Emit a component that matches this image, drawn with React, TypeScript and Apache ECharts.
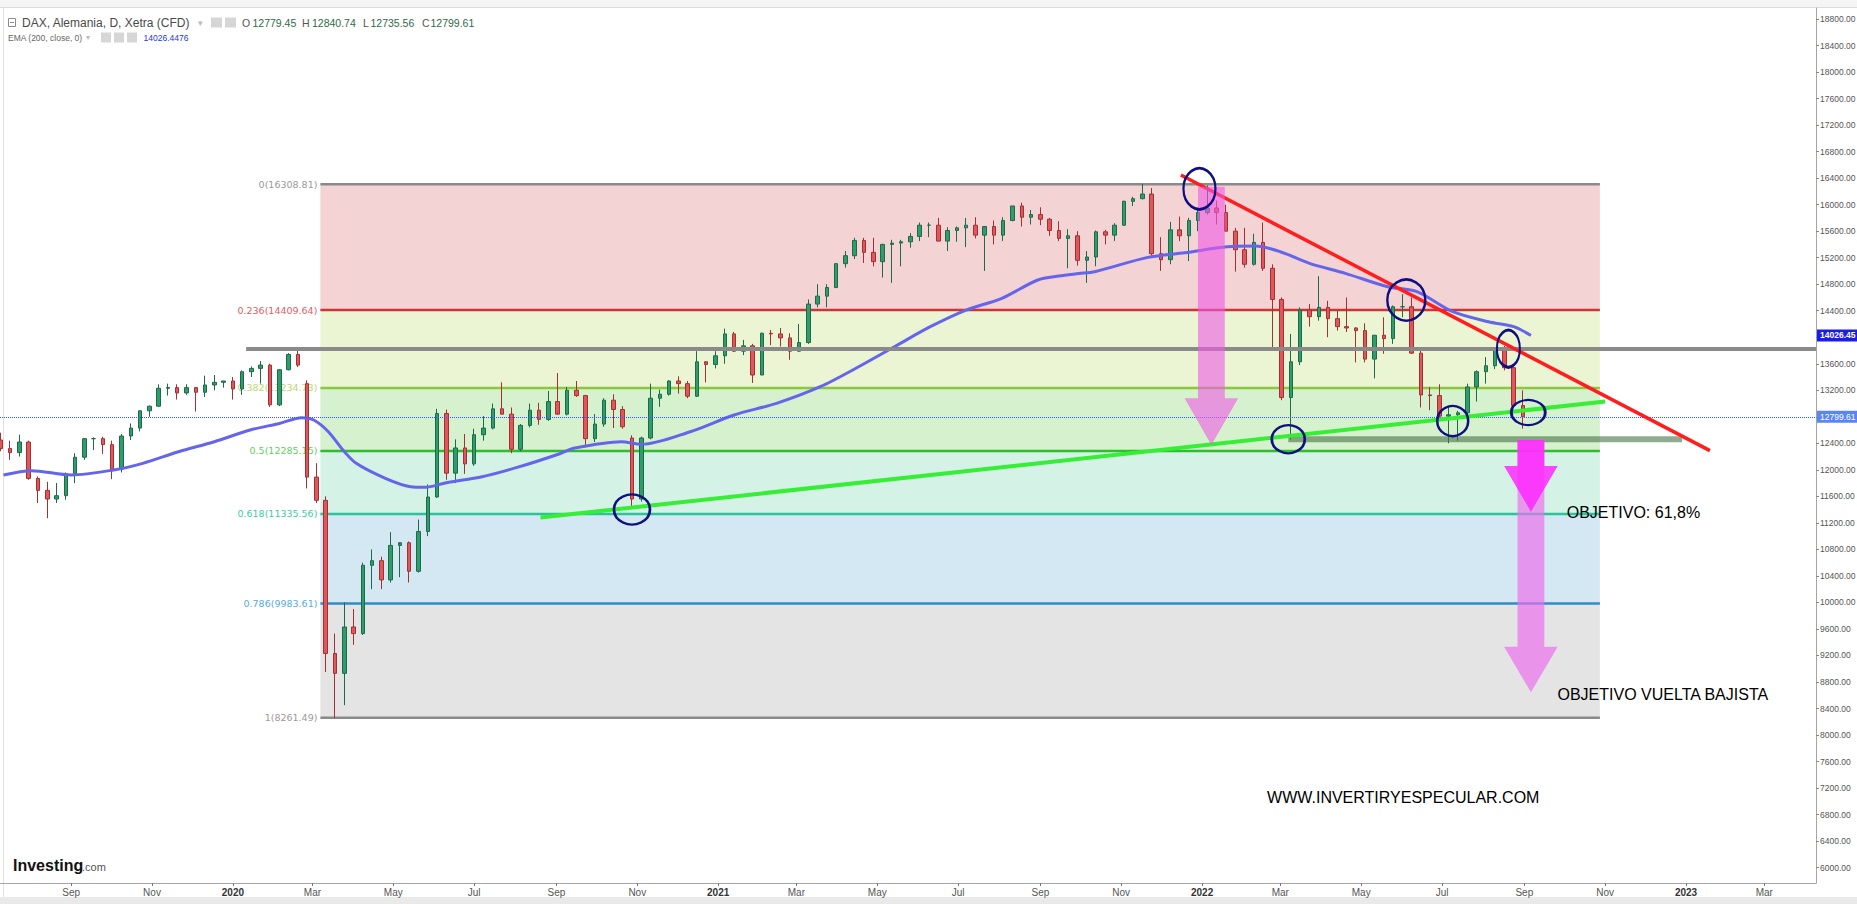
import React, { useEffect, useRef } from "react";
import * as echarts from "echarts";

type Candle = [string, number, number, number, number]; // date, open, high, low, close

const CANDLES_2019: Candle[] = [
  ["2019-07-10", 12450, 12560, 12280, 12320],
  ["2019-07-17", 12320, 12440, 12150, 12260],
  ["2019-07-24", 12260, 12530, 12200, 12420],
  ["2019-07-31", 12420, 12440, 11850, 11870],
  ["2019-08-07", 11870, 11900, 11500, 11690],
  ["2019-08-14", 11690, 11820, 11270, 11560],
  ["2019-08-21", 11560, 11800, 11500, 11610],
  ["2019-08-28", 11610, 11960, 11550, 11940],
  ["2019-09-04", 11940, 12250, 11800, 12190],
  ["2019-09-11", 12190, 12480, 12150, 12470],
  ["2019-09-18", 12470, 12490, 12300, 12470],
  ["2019-09-25", 12470, 12500, 12240, 12380],
  ["2019-10-02", 12380, 12440, 11860, 12010],
  ["2019-10-09", 12010, 12540, 11960, 12510],
  ["2019-10-16", 12510, 12700, 12450, 12630],
  ["2019-10-23", 12630, 12900, 12580, 12890],
  ["2019-10-30", 12890, 12970, 12800, 12960],
  ["2019-11-06", 12960, 13290, 12950, 13230],
  ["2019-11-13", 13230, 13300, 13120, 13240],
  ["2019-11-20", 13240, 13290, 13060, 13160],
  ["2019-11-27", 13160, 13290, 13130, 13240],
  ["2019-12-04", 13240, 13250, 12880, 13170],
  ["2019-12-11", 13170, 13420, 13100, 13280],
  ["2019-12-18", 13280, 13430, 13200, 13320],
  ["2019-12-25", 13320, 13340, 13240, 13340],
];

const CANDLES_2020: Candle[] = [
  ["2020-01-01", 13340, 13400, 13060, 13220],
  ["2020-01-08", 13220, 13500, 13130, 13480],
  ["2020-01-15", 13480, 13560, 13400, 13530],
  ["2020-01-22", 13530, 13640, 13300, 13580],
  ["2020-01-29", 13580, 13600, 12950, 12980],
  ["2020-02-05", 12980, 13500, 12960, 13510],
  ["2020-02-12", 13510, 13760, 13500, 13740],
  ["2020-02-19", 13740, 13800, 13550, 13580],
  ["2020-02-26", 13300, 13350, 11720, 11890],
  ["2020-03-04", 11890, 12100, 11500, 11540],
  ["2020-03-11", 11540, 11600, 8950, 9230],
  ["2020-03-18", 9230, 9530, 8260, 8930],
  ["2020-03-25", 8930, 10000, 8450, 9630],
  ["2020-04-01", 9630, 9900, 9360, 9530],
  ["2020-04-08", 9530, 10600, 9510, 10560],
  ["2020-04-15", 10560, 10800, 10200, 10630],
  ["2020-04-22", 10630, 10690, 10200, 10340],
  ["2020-04-29", 10340, 11060, 10300, 10860],
  ["2020-05-06", 10860, 10880, 10380, 10900],
  ["2020-05-13", 10900, 10920, 10300, 10470],
  ["2020-05-20", 10470, 11250, 10450, 11070],
  ["2020-05-27", 11070, 11780, 11000, 11590],
  ["2020-06-03", 11590, 12920, 11580, 12850],
  ["2020-06-10", 12850, 12910, 11850, 11950],
  ["2020-06-17", 11950, 12460, 11800, 12330],
  ["2020-06-24", 12330, 12540, 11940, 12090],
  ["2020-07-01", 12090, 12620, 12060, 12530],
  ["2020-07-08", 12530, 12810, 12440, 12630],
  ["2020-07-15", 12630, 13000, 12610, 12920],
  ["2020-07-22", 12920, 13320, 12840, 12840],
  ["2020-07-29", 12840, 12940, 12250, 12310],
  ["2020-08-05", 12310, 12690, 12280, 12670],
  ["2020-08-12", 12670, 13000, 12640, 12900],
  ["2020-08-19", 12900, 13010, 12680, 12760],
  ["2020-08-26", 12760, 13190, 12740, 13030],
  ["2020-09-02", 13030, 13460, 12860, 12840],
  ["2020-09-09", 12840, 13250, 12820, 13200],
  ["2020-09-16", 13200, 13340, 13100, 13120],
  ["2020-09-23", 13120, 13130, 12340, 12470],
  ["2020-09-30", 12470, 12840, 12420, 12690],
  ["2020-10-07", 12690, 13080, 12650, 13050],
  ["2020-10-14", 13050, 13140, 12630, 12910],
  ["2020-10-21", 12910, 12960, 12620, 12650],
  ["2020-10-28", 12480, 12520, 11450, 11560],
  ["2020-11-04", 11560, 12500, 11520, 12480],
  ["2020-11-11", 12480, 13300, 12460, 13080],
  ["2020-11-18", 13080, 13210, 12950, 13140],
  ["2020-11-25", 13140, 13350, 13120, 13340],
  ["2020-12-02", 13340, 13410, 13150, 13300],
  ["2020-12-09", 13300, 13340, 13080, 13110],
  ["2020-12-16", 13110, 13790, 13100, 13630],
  ["2020-12-23", 13630, 13640, 13320, 13590],
  ["2020-12-30", 13590, 13790, 13530, 13720],
];

const CANDLES_2021: Candle[] = [
  ["2021-01-06", 13720, 14130, 13600, 14050],
  ["2021-01-13", 14050, 14080, 13780, 13790],
  ["2021-01-20", 13790, 13960, 13730, 13870],
  ["2021-01-27", 13870, 13900, 13310, 13430],
  ["2021-02-03", 13430, 14070, 13430, 14060],
  ["2021-02-10", 14060, 14110, 13880, 14050],
  ["2021-02-17", 14050, 14140, 13860, 13990],
  ["2021-02-24", 13990, 14060, 13660, 13790],
  ["2021-03-03", 13790, 14200, 13780, 13920],
  ["2021-03-10", 13920, 14570, 13900, 14500],
  ["2021-03-17", 14500, 14800, 14450, 14620],
  ["2021-03-24", 14620, 14800, 14450, 14750],
  ["2021-03-31", 14750, 15120, 14740, 15110],
  ["2021-04-07", 15110, 15300, 15050, 15230],
  ["2021-04-14", 15230, 15500, 15180, 15460],
  ["2021-04-21", 15460, 15500, 15120, 15280],
  ["2021-04-28", 15280, 15500, 15070, 15140],
  ["2021-05-05", 15140, 15410, 14900, 15400],
  ["2021-05-12", 15400, 15470, 14820, 15420],
  ["2021-05-19", 15420, 15470, 15070, 15440],
  ["2021-05-26", 15440, 15570, 15350, 15520],
  ["2021-06-02", 15520, 15730, 15450, 15690],
  ["2021-06-09", 15690, 15730, 15510, 15690],
  ["2021-06-16", 15690, 15800, 15450, 15450],
  ["2021-06-23", 15450, 15660, 15300, 15610],
  ["2021-06-30", 15610, 15670, 15440, 15650],
  ["2021-07-07", 15650, 15800, 15360, 15690],
  ["2021-07-14", 15690, 15810, 15490, 15540],
  ["2021-07-21", 15540, 15660, 15000, 15670],
  ["2021-07-28", 15670, 15760, 15400, 15540],
  ["2021-08-04", 15540, 15810, 15450, 15760],
  ["2021-08-11", 15760, 15980, 15750, 15980],
  ["2021-08-18", 15980, 16030, 15670, 15810],
  ["2021-08-25", 15810, 15920, 15700, 15850],
  ["2021-09-01", 15850, 15960, 15690, 15780],
  ["2021-09-08", 15780, 15800, 15530, 15610],
  ["2021-09-15", 15610, 15750, 15450, 15490],
  ["2021-09-22", 15490, 15630, 15040, 15530],
  ["2021-09-29", 15530, 15600, 15080, 15160],
  ["2021-10-06", 15160, 15300, 14820, 15210],
  ["2021-10-13", 15210, 15610, 15070, 15590],
  ["2021-10-20", 15590, 15620, 15400, 15540],
  ["2021-10-27", 15540, 15720, 15450, 15690],
  ["2021-11-03", 15690, 16060, 15680, 16050],
  ["2021-11-10", 16050, 16120, 15980, 16090],
  ["2021-11-17", 16090, 16310, 16080, 16160],
  ["2021-11-24", 16160, 16250, 15230, 15260],
  ["2021-12-01", 15260, 15510, 15000, 15170],
  ["2021-12-08", 15170, 15740, 15100, 15620],
  ["2021-12-15", 15620, 15820, 15450, 15530],
  ["2021-12-22", 15530, 15800, 15150, 15760],
  ["2021-12-29", 15760, 15950, 15600, 15880],
];

const CANDLES_2022: Candle[] = [
  ["2022-01-05", 15880, 16290, 15850, 15950],
  ["2022-01-12", 15950, 16060, 15700, 15880],
  ["2022-01-19", 15880, 16000, 15600, 15600],
  ["2022-01-26", 15600, 15650, 14990, 15320],
  ["2022-02-02", 15320, 15650, 15050, 15100],
  ["2022-02-09", 15100, 15560, 15080, 15430],
  ["2022-02-16", 15430, 15730, 15000, 15040],
  ["2022-02-23", 15040, 15100, 13800, 14570],
  ["2022-03-02", 14570, 14600, 13050, 13090],
  ["2022-03-09", 13090, 14050, 12460, 13630],
  ["2022-03-16", 13630, 14450, 13580, 14410],
  ["2022-03-23", 14410, 14500, 14160, 14310],
  ["2022-03-30", 14310, 14920, 14250, 14450],
  ["2022-04-06", 14450, 14550, 14000, 14280],
  ["2022-04-13", 14280, 14400, 14100, 14160],
  ["2022-04-20", 14160, 14600, 14080, 14140],
  ["2022-04-27", 14140, 14150, 13620, 14100],
  ["2022-05-04", 14100, 14210, 13620, 13670],
  ["2022-05-11", 13670, 14030, 13380, 14030],
  ["2022-05-18", 14030, 14300, 13750, 13980],
  ["2022-05-25", 13980, 14480, 13900, 14460],
  ["2022-06-01", 14460, 14650, 14300, 14460],
  ["2022-06-08", 14460, 14600, 13750, 13760],
  ["2022-06-15", 13760, 13800, 12940, 13130],
  ["2022-06-22", 13130, 13250, 12900, 13120],
  ["2022-06-29", 13120, 13290, 12750, 12810],
  ["2022-07-06", 12810, 12960, 12400, 12830],
  ["2022-07-13", 12830, 12890, 12440, 12860],
  ["2022-07-20", 12860, 13300, 12840, 13250],
  ["2022-07-27", 13250, 13500, 13030, 13480],
  ["2022-08-03", 13480, 13700, 13300, 13570],
  ["2022-08-10", 13570, 13800, 13520, 13800],
  ["2022-08-17", 13800, 13870, 13500, 13540],
  ["2022-08-24", 13540, 13560, 12950, 12970],
  ["2022-08-31", 12970, 13200, 12620, 12800],
];

const EMA_200: [string, number][] = [
  ["2019-07-12", 11922], ["2019-08-02", 11987], ["2019-09-01", 11922], ["2019-10-03", 11997],
  ["2019-10-25", 12098], ["2019-11-21", 12273], ["2019-12-18", 12424], ["2020-01-14", 12600],
  ["2020-02-05", 12700], ["2020-02-22", 12786], ["2020-03-02", 12751], ["2020-03-13", 12575],
  ["2020-03-24", 12299], ["2020-04-03", 12098], ["2020-04-25", 11872], ["2020-05-14", 11745],
  ["2020-05-25", 11736], ["2020-06-10", 11806], ["2020-07-07", 11896], ["2020-08-03", 12040],
  ["2020-09-03", 12239], ["2020-09-14", 12325], ["2020-10-20", 12424], ["2020-11-04", 12385],
  ["2020-12-11", 12575], ["2021-01-13", 12827], ["2021-02-14", 13003], ["2021-03-19", 13254],
  ["2021-04-17", 13555], ["2021-05-14", 13857], ["2021-06-10", 14159], ["2021-07-07", 14410],
  ["2021-08-03", 14587], ["2021-08-30", 14863], ["2021-09-15", 14923], ["2021-09-30", 14960],
  ["2021-10-12", 14988], ["2021-11-21", 15205], ["2021-12-19", 15275], ["2022-01-20", 15365],
  ["2022-02-10", 15376], ["2022-03-01", 15290], ["2022-03-23", 15115], ["2022-04-19", 14964],
  ["2022-05-21", 14762], ["2022-06-12", 14687], ["2022-07-09", 14385], ["2022-08-05", 14234],
  ["2022-08-24", 14159], ["2022-09-06", 14026],
];

const EMA_LAST = 14026.45;
const EMA_LAST_FULL = "14026.4476";
const LAST_PRICE = 12799.61;
const HEADER_OHLC: [string, string][] = [["O", "12779.45"], ["H", "12840.74"], ["L", "12735.56"], ["C", "12799.61"]];
const TITLE = "DAX, Alemania, D, Xetra (CFD)";
const EMA_TITLE = "EMA (200, close, 0)";

const FIB_RATIOS = ["0", "0.236", "0.382", "0.5", "0.618", "0.786", "1"];
const FIB_VALUES = [16308.81, 14409.64, 13234.73, 12285.15, 11335.56, 9983.61, 8261.49];
const FIB_SPAN = ["2020-03-07", "2022-10-28"];

const RESISTANCE: [string, number][] = [["2020-01-11", 13822], ["2023-04-09", 13822]];
const SUPPORT_BAND: [string, number][] = [["2022-03-07", 12460], ["2022-12-29", 12460]];
const GREEN_TREND: [string, number][] = [["2020-08-20", 11281], ["2022-11-01", 13030]];
const RED_TREND: [string, number][] = [["2021-12-16", 16447], ["2023-01-19", 12290]];

const CIRCLES: [string, number][] = [
  ["2020-10-28", 11402], ["2021-12-30", 16239], ["2022-03-07", 12462], ["2022-06-04", 14561],
  ["2022-07-09", 12736], ["2022-08-20", 13827], ["2022-09-04", 12865],
];

// date, shaft top, head start, tip
const ARROWS: [string, number, number, number][] = [
  ["2022-01-08", 16270, 13079, 12375],
  ["2022-09-06", 12450, 9332, 8644],
  ["2022-09-06", 12450, 12058, 11369],
];

const NOTES: [string, number, string][] = [
  ["2022-10-03", 11349, "OBJETIVO: 61,8%"],
  ["2022-09-26", 8604, "OBJETIVO VUELTA BAJISTA"],
  ["2022-02-19", 7065, "WWW.INVERTIRYESPECULAR.COM"],
];

const X_TICKS = [
  "2019-09-01", "2019-11-01", "2020-01-01", "2020-03-01", "2020-05-01", "2020-07-01", "2020-09-01",
  "2020-11-01", "2021-01-01", "2021-03-01", "2021-05-01", "2021-07-01", "2021-09-01", "2021-11-01",
  "2022-01-01", "2022-03-01", "2022-05-01", "2022-07-01", "2022-09-01", "2022-11-01", "2023-01-01",
  "2023-03-01",
];
const MONTHS = ["Jan", "Feb", "Mar", "Apr", "May", "Jun", "Jul", "Aug", "Sep", "Oct", "Nov", "Dec"];
const Y_TICKS = [
  6000, 6400, 6800, 7200, 7600, 8000, 8400, 8800, 9200, 9600, 10000, 10400, 10800, 11200, 11600,
  12000, 12400, 12800, 13200, 13600, 14000, 14400, 14800, 15200, 15600, 16000, 16400, 16800, 17200,
  17600, 18000, 18400, 18800,
];
const X_RANGE = ["2019-07-09T08:40:00Z", "2023-04-09"];
const Y_RANGE = [5768, 18966];

// styles
const FIB_LINE_COLORS = ["#8a8a8a", "#cf3434", "#8cc83c", "#2dbd2d", "#2cc39a", "#2e8cc8", "#8a8a8a"];
const FIB_LABEL_COLORS = ["#9a9a9a", "#e0605f", "#b8d870", "#5fcf5f", "#3dcda0", "#55abe0", "#9a9a9a"];
const FIB_ZONE_COLORS = ["#f4d3d4", "#ebf5d3", "#d6f1cd", "#d4f3e6", "#d4e8f3", "#e4e4e4"];
const CIRCLE_SIZES: [number, number][] = [[36, 30], [32, 41], [33, 28], [38, 41], [31, 30], [23, 37], [34, 25]];
const ARROW_COLORS = ["rgba(238,90,230,0.6)", "rgba(236,110,238,0.68)", "rgba(255,40,255,0.85)"];

const FONT = '"Liberation Sans", Arial, sans-serif';
const ts = (d: string) => Date.parse(d.length === 10 ? d + "T00:00:00Z" : d);

function buildOption(): any {
  const candles = [...CANDLES_2019, ...CANDLES_2020, ...CANDLES_2021, ...CANDLES_2022];
  const line = (data: [string, number][], color: string, width: number, z: number) => ({
    type: "line",
    z,
    silent: true,
    symbol: "none",
    data: data.map(([d, v]) => [ts(d), v]),
    lineStyle: { color, width, cap: "butt" },
  });
  const priceTag = (value: number, bg: string, bold: boolean) => ({
    show: true,
    position: "end",
    distance: 1,
    formatter: () => value.toFixed(2),
    backgroundColor: bg,
    color: "#ffffff",
    fontWeight: bold ? "bold" : "normal",
    fontSize: 8.5,
    fontFamily: FONT,
    padding: [2, 3, 1, 3],
  });

  const headerGraphics: any[] = [
    { type: "rect", silent: true, shape: { x: 0, y: 0, width: 1857, height: 7 }, style: { fill: "#f5f5f5" } },
    { type: "line", silent: true, shape: { x1: 0, y1: 7.5, x2: 1857, y2: 7.5 }, style: { stroke: "#dcdcdc", lineWidth: 1 } },
    { type: "line", silent: true, shape: { x1: 3.5, y1: 8, x2: 3.5, y2: 897 }, style: { stroke: "#e2e2e2", lineWidth: 1 } },
    { type: "rect", silent: true, shape: { x: 0, y: 897, width: 1857, height: 7 }, style: { fill: "#e9e9e9" } },
    { type: "rect", silent: true, shape: { x: 8.5, y: 18.5, width: 7, height: 8 }, style: { fill: "none", stroke: "#8a8a8a", lineWidth: 1 } },
    { type: "line", silent: true, shape: { x1: 10, y1: 22.5, x2: 14, y2: 22.5 }, style: { stroke: "#8a8a8a", lineWidth: 1 } },
    { type: "text", silent: true, x: 22, y: 23, style: { text: TITLE, fill: "#4a4a4a", fontSize: 12, fontFamily: FONT, verticalAlign: "middle" } },
    { type: "text", silent: true, x: 198, y: 23, style: { text: "▾", fill: "#bbbbbb", fontSize: 9, fontFamily: "DejaVu Sans", verticalAlign: "middle" } },
    { type: "rect", silent: true, shape: { x: 211, y: 17.5, width: 11, height: 10 }, style: { fill: "#d6d6d6" } },
    { type: "rect", silent: true, shape: { x: 225, y: 17.5, width: 11, height: 10 }, style: { fill: "#d6d6d6" } },
    { type: "text", silent: true, x: 8, y: 37.5, style: { text: EMA_TITLE, fill: "#666666", fontSize: 8.5, fontFamily: FONT, verticalAlign: "middle" } },
    { type: "text", silent: true, x: 86, y: 37.5, style: { text: "▾", fill: "#bbbbbb", fontSize: 8, fontFamily: "DejaVu Sans", verticalAlign: "middle" } },
    { type: "rect", silent: true, shape: { x: 101, y: 32.5, width: 10, height: 10 }, style: { fill: "#d6d6d6" } },
    { type: "rect", silent: true, shape: { x: 114, y: 32.5, width: 10, height: 10 }, style: { fill: "#d6d6d6" } },
    { type: "rect", silent: true, shape: { x: 127, y: 32.5, width: 10, height: 10 }, style: { fill: "#d6d6d6" } },
    { type: "text", silent: true, x: 143.5, y: 37.5, style: { text: EMA_LAST_FULL, fill: "#2236ff", fontSize: 8.5, fontFamily: FONT, verticalAlign: "middle" } },
    { type: "text", silent: true, x: 13, y: 865, style: { text: "Investing", fill: "#111111", fontSize: 16, fontWeight: "bold", fontFamily: FONT, verticalAlign: "middle" } },
    { type: "text", silent: true, x: 82, y: 867, style: { text: ".com", fill: "#555555", fontSize: 11, fontFamily: FONT, verticalAlign: "middle" } },
  ];
  const ohlcX = [[242, 252.5], [302, 312], [363, 370.5], [422, 430.5]];
  HEADER_OHLC.forEach(([k, v], i) => {
    headerGraphics.push({ type: "text", silent: true, x: ohlcX[i][0], y: 23, style: { text: k, fill: "#555555", fontSize: 10.5, fontFamily: FONT, verticalAlign: "middle" } });
    headerGraphics.push({ type: "text", silent: true, x: ohlcX[i][1], y: 23, style: { text: v, fill: "#2e6b48", fontSize: 10.5, fontFamily: FONT, verticalAlign: "middle" } });
  });

  return {
    animation: false,
    backgroundColor: "#ffffff",
    textStyle: { fontFamily: FONT },
    grid: { left: 0, right: 41, top: 8, bottom: 21, containLabel: false, outerBoundsMode: "none" },
    xAxis: {
      type: "value",
      min: ts(X_RANGE[0]),
      max: ts(X_RANGE[1]),
      axisLine: { show: true, lineStyle: { color: "#a5a5a5", width: 1 } },
      axisTick: { show: true, customValues: X_TICKS.map(ts), length: 3, lineStyle: { color: "#777777" } },
      axisLabel: {
        customValues: X_TICKS.map(ts),
        margin: 4,
        fontSize: 10,
        color: "#555555",
        fontFamily: FONT,
        formatter: (v: number) => {
          const d = new Date(v);
          const m = d.getUTCMonth();
          return m === 0 ? `{y|${d.getUTCFullYear()}}` : MONTHS[m];
        },
        rich: { y: { fontWeight: "bold", color: "#333333", fontSize: 10, fontFamily: FONT } },
      },
      splitLine: { show: false },
    },
    yAxis: {
      type: "value",
      position: "right",
      min: Y_RANGE[0],
      max: Y_RANGE[1],
      axisLine: { show: true, lineStyle: { color: "#a5a5a5", width: 1 } },
      axisTick: { show: true, customValues: Y_TICKS, length: 3, lineStyle: { color: "#888888" } },
      axisLabel: {
        customValues: Y_TICKS,
        margin: 4,
        fontSize: 8.5,
        color: "#555555",
        fontFamily: FONT,
        formatter: (v: number) => v.toFixed(2),
      },
      splitLine: { show: false },
    },
    graphic: headerGraphics,
    series: [
      {
        type: "custom",
        name: "fib",
        z: 1,
        silent: true,
        clip: false,
        encode: { x: [0, 2], y: [1, 3] },
        data: FIB_VALUES.map((v, i) => [ts(FIB_SPAN[0]), v, ts(FIB_SPAN[1]), i < FIB_VALUES.length - 1 ? FIB_VALUES[i + 1] : v]),
        renderItem: (params: any, api: any) => {
          const i = params.dataIndex;
          const a = api.coord([api.value(0), api.value(1)]);
          const b = api.coord([api.value(2), api.value(3)]);
          const children: any[] = [];
          if (i < FIB_VALUES.length - 1) {
            children.push({ type: "rect", shape: { x: a[0], y: a[1], width: b[0] - a[0], height: b[1] - a[1] }, style: { fill: FIB_ZONE_COLORS[i] } });
          }
          children.push({ type: "line", shape: { x1: a[0], y1: a[1], x2: b[0], y2: a[1] }, style: { stroke: FIB_LINE_COLORS[i], lineWidth: 2.5 } });
          children.push({
            type: "text",
            x: a[0] - 3,
            y: a[1],
            style: {
              text: `${FIB_RATIOS[i]}(${FIB_VALUES[i].toFixed(2)})`,
              fill: FIB_LABEL_COLORS[i],
              fontSize: 9.5,
              fontFamily: "DejaVu Sans",
              align: "right",
              verticalAlign: "middle",
            },
          });
          return { type: "group", children };
        },
      },
      {
        type: "candlestick",
        name: "DAX",
        z: 2,
        silent: true,
        barWidth: 4,
        encode: { x: 0, y: [1, 2, 3, 4] },
        data: candles.map(([d, o, h, l, c]) => [ts(d), o, c, l, h]),
        itemStyle: { color: "#2e9d6b", color0: "#e0565a", borderColor: "#1e6b49", borderColor0: "#a23133", borderWidth: 1 },
        markLine: {
          silent: true,
          symbol: ["none", "none"],
          animation: false,
          lineStyle: { color: "#3355ff", type: "dotted", width: 1 },
          label: priceTag(LAST_PRICE, "#5b86ee", false),
          data: [{ yAxis: LAST_PRICE }],
        },
      },
      {
        ...line(EMA_200, "#6565ec", 3, 4),
        smooth: 0.3,
        markLine: {
          silent: true,
          symbol: ["none", "none"],
          animation: false,
          lineStyle: { color: "rgba(0,0,0,0)", width: 0.1 },
          label: priceTag(EMA_LAST, "#1b1bea", true),
          data: [{ yAxis: EMA_LAST }],
        },
      },
      line(RESISTANCE, "#8a8a8a", 4, 4),
      line(SUPPORT_BAND, "rgba(70,115,70,0.6)", 6, 4),
      line(GREEN_TREND, "#36ee36", 4, 5),
      line(RED_TREND, "#ff1d1d", 3.5, 5),
      {
        type: "custom",
        name: "arrows",
        z: 6,
        silent: true,
        clip: false,
        encode: { x: 0, y: [1, 2, 3] },
        data: ARROWS.map(([d, a, b, c]) => [ts(d), a, b, c]),
        renderItem: (params: any, api: any) => {
          const x = api.value(0);
          const top = api.coord([x, api.value(1)]);
          const head = api.coord([x, api.value(2)]);
          const tip = api.coord([x, api.value(3)]);
          const cx = top[0];
          const sw = 13.4;
          const hw = 26.8;
          return {
            type: "polygon",
            shape: {
              points: [
                [cx - sw, top[1]], [cx + sw, top[1]], [cx + sw, head[1]], [cx + hw, head[1]],
                [cx, tip[1]], [cx - hw, head[1]], [cx - sw, head[1]],
              ],
            },
            style: { fill: ARROW_COLORS[params.dataIndex] },
          };
        },
      },
      {
        type: "scatter",
        name: "circles",
        z: 7,
        silent: true,
        symbol: "circle",
        symbolSize: (_v: any, p: any) => CIRCLE_SIZES[p.dataIndex],
        data: CIRCLES.map(([d, v]) => [ts(d), v]),
        itemStyle: { color: "rgba(0,0,0,0)", borderColor: "#0f0f82", borderWidth: 2.5, opacity: 1 },
      },
      {
        type: "custom",
        name: "notes",
        z: 8,
        silent: true,
        clip: false,
        encode: { x: 0, y: 1 },
        data: NOTES.map(([d, v]) => [ts(d), v]),
        renderItem: (params: any, api: any) => {
          const p = api.coord([api.value(0), api.value(1)]);
          return {
            type: "text",
            x: p[0],
            y: p[1],
            style: {
              text: NOTES[params.dataIndex][2],
              fill: "#000000",
              fontSize: 16,
              fontFamily: FONT,
              align: "left",
              verticalAlign: "middle",
            },
          };
        },
      },
    ],
  };
}

export default function App() {
  const ref = useRef<HTMLDivElement>(null);
  useEffect(() => {
    if (!ref.current) return;
    const chart = echarts.init(ref.current, null, { renderer: "svg" });
    chart.setOption(buildOption());
    return () => chart.dispose();
  }, []);
  return (
    <div
      ref={ref}
      style={{ position: "fixed", left: 0, top: 0, width: 1857, height: 904, background: "#ffffff" }}
    />
  );
}
